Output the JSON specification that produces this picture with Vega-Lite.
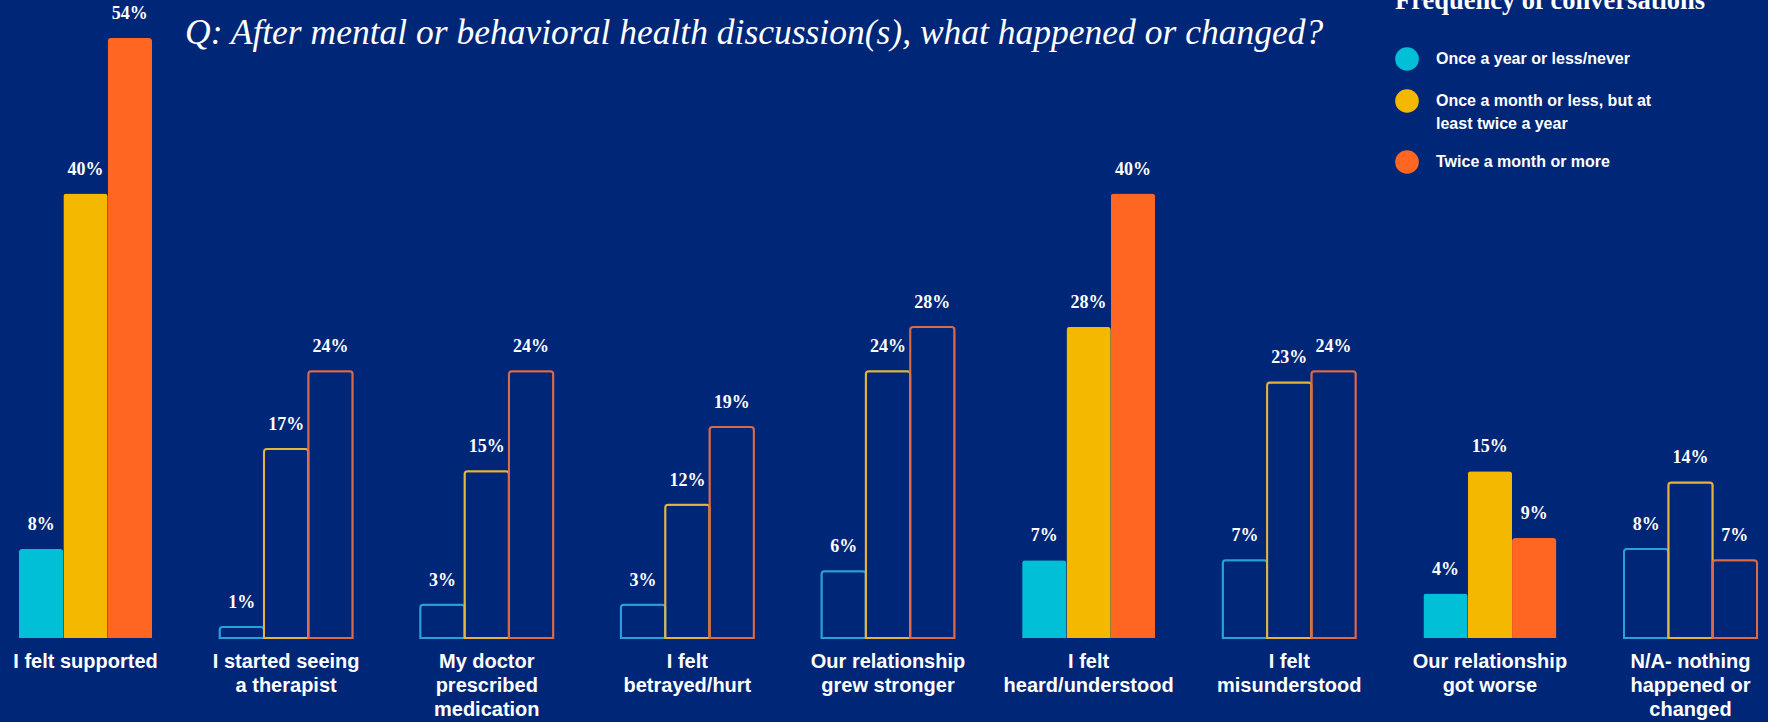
{
  "$schema": "https://vega.github.io/schema/vega-lite/v6.json",
  "autosize": {"type": "none"},
  "width": 1738,
  "height": 600,
  "padding": {"left": 19, "top": 38, "right": 11, "bottom": 84},
  "background": "#002677",
  "title": {
    "text": "Q: After mental or behavioral health discussion(s), what happened or changed?",
    "font": "Liberation Serif",
    "fontStyle": "italic",
    "fontWeight": "normal",
    "fontSize": 35.5,
    "color": "#ffffff",
    "anchor": "start",
    "frame": "group",
    "orient": "top",
    "baseline": "alphabetic",
    "offset": 0,
    "dx": 166,
    "dy": 91
  },
  "data": {
    "values": [
      {"category": "I felt supported", "series": "Once a year or less/never", "value": 0.08},
      {"category": "I felt supported", "series": "Once a month or less, but at\nleast twice a year", "value": 0.40},
      {"category": "I felt supported", "series": "Twice a month or more", "value": 0.54},
      {"category": "I started seeing\na therapist", "series": "Once a year or less/never", "value": 0.01},
      {"category": "I started seeing\na therapist", "series": "Once a month or less, but at\nleast twice a year", "value": 0.17},
      {"category": "I started seeing\na therapist", "series": "Twice a month or more", "value": 0.24},
      {"category": "My doctor\nprescribed\nmedication", "series": "Once a year or less/never", "value": 0.03},
      {"category": "My doctor\nprescribed\nmedication", "series": "Once a month or less, but at\nleast twice a year", "value": 0.15},
      {"category": "My doctor\nprescribed\nmedication", "series": "Twice a month or more", "value": 0.24},
      {"category": "I felt\nbetrayed/hurt", "series": "Once a year or less/never", "value": 0.03},
      {"category": "I felt\nbetrayed/hurt", "series": "Once a month or less, but at\nleast twice a year", "value": 0.12},
      {"category": "I felt\nbetrayed/hurt", "series": "Twice a month or more", "value": 0.19},
      {"category": "Our relationship\ngrew stronger", "series": "Once a year or less/never", "value": 0.06},
      {"category": "Our relationship\ngrew stronger", "series": "Once a month or less, but at\nleast twice a year", "value": 0.24},
      {"category": "Our relationship\ngrew stronger", "series": "Twice a month or more", "value": 0.28},
      {"category": "I felt\nheard/understood", "series": "Once a year or less/never", "value": 0.07},
      {"category": "I felt\nheard/understood", "series": "Once a month or less, but at\nleast twice a year", "value": 0.28},
      {"category": "I felt\nheard/understood", "series": "Twice a month or more", "value": 0.40},
      {"category": "I felt\nmisunderstood", "series": "Once a year or less/never", "value": 0.07},
      {"category": "I felt\nmisunderstood", "series": "Once a month or less, but at\nleast twice a year", "value": 0.23},
      {"category": "I felt\nmisunderstood", "series": "Twice a month or more", "value": 0.24},
      {"category": "Our relationship\ngot worse", "series": "Once a year or less/never", "value": 0.04},
      {"category": "Our relationship\ngot worse", "series": "Once a month or less, but at\nleast twice a year", "value": 0.15},
      {"category": "Our relationship\ngot worse", "series": "Twice a month or more", "value": 0.09},
      {"category": "N/A- nothing\nhappened or\nchanged", "series": "Once a year or less/never", "value": 0.08},
      {"category": "N/A- nothing\nhappened or\nchanged", "series": "Once a month or less, but at\nleast twice a year", "value": 0.14},
      {"category": "N/A- nothing\nhappened or\nchanged", "series": "Twice a month or more", "value": 0.07}
    ]
  },
  "encoding": {
    "x": {
      "field": "category",
      "type": "nominal",
      "sort": null,
      "scale": {"paddingInner": 0.337, "paddingOuter": 0},
      "axis": {
        "title": null,
        "domain": false,
        "ticks": false,
        "labelAngle": 0,
        "labelExpr": "split(datum.label, '\\n')",
        "labelFont": "Liberation Sans",
        "labelFontWeight": "bold",
        "labelFontSize": 20,
        "labelColor": "#ffffff",
        "labelLineHeight": 24.3,
        "labelPadding": 13,
        "labelLimit": 400
      }
    },
    "xOffset": {
      "field": "series",
      "type": "nominal",
      "sort": null,
      "scale": {"paddingInner": 0, "paddingOuter": 0}
    },
    "y": {
      "field": "value",
      "type": "quantitative",
      "scale": {"domain": [0, 0.54], "nice": false},
      "axis": null
    }
  },
  "layer": [
    {
      "mark": {
        "type": "bar",
        "strokeWidth": 2,
        "cornerRadiusTopLeft": 3,
        "cornerRadiusTopRight": 3
      },
      "encoding": {
        "fill": {
          "condition": {
            "test": "indexof(['I felt supported', 'I felt\\nheard/understood', 'Our relationship\\ngot worse'], datum.category) >= 0",
            "field": "series",
            "type": "nominal",
            "scale": {
              "domain": ["Once a year or less/never", "Once a month or less, but at\nleast twice a year", "Twice a month or more"],
              "range": ["#00bfd6", "#f5b800", "#ff6622"]
            },
            "legend": {
              "title": "Frequency of conversations",
              "orient": "none",
              "legendX": 1376,
              "legendY": -50,
              "padding": 0,
              "titleFont": "Liberation Serif",
              "titleFontWeight": "bold",
              "titleFontSize": 26.5,
              "titleColor": "#ffffff",
              "titleBaseline": "top",
              "titlePadding": 32.5,
              "titleLimit": 500,
              "symbolType": "circle",
              "symbolSize": 560,
              "symbolStrokeWidth": 0,
              "symbolOpacity": 1,
              "labelExpr": "split(datum.label, '\\n')",
              "labelFont": "Liberation Sans",
              "labelFontWeight": "bold",
              "labelFontSize": 16,
              "labelColor": "#ffffff",
              "labelOffset": 17,
              "labelLimit": 400,
              "rowPadding": 18
            }
          },
          "value": "transparent"
        },
        "stroke": {
          "condition": {
            "test": "indexof(['I felt supported', 'I felt\\nheard/understood', 'Our relationship\\ngot worse'], datum.category) >= 0",
            "value": "transparent"
          },
          "field": "series",
          "type": "nominal",
          "scale": {
            "domain": ["Once a year or less/never", "Once a month or less, but at\nleast twice a year", "Twice a month or more"],
            "range": ["#2a9fdc", "#e6b43a", "#dc6a45"]
          },
          "legend": null
        }
      }
    },
    {
      "mark": {
        "type": "text",
        "font": "Liberation Serif",
        "fontWeight": "bold",
        "fontSize": 18,
        "color": "#ffffff",
        "baseline": "alphabetic",
        "dy": -19
      },
      "encoding": {
        "text": {"field": "value", "type": "quantitative", "format": ".0%"}
      }
    }
  ],
  "config": {
    "view": {"stroke": null},
    "style": {"guide-label": {"lineHeight": 23}}
  }
}
